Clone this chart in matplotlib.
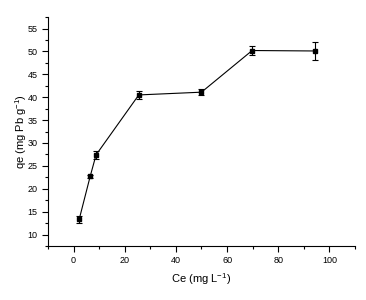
import matplotlib
matplotlib.use("Agg")
import matplotlib.pyplot as plt
import matplotlib.ticker as ticker

plt.rcParams["font.family"] = ["Liberation Sans", "DejaVu Sans"]
plt.rcParams["font.size"] = 7
plt.rcParams["mathtext.default"] = "regular"

# equilibrium concentration vs. uptake
ce = [2.2, 6.5, 8.8, 25.5, 50.0, 69.8, 94.5]
qe = [13.3, 22.7, 27.4, 40.5, 41.1, 50.2, 50.1]
qe_err = [0.8, 0.3, 0.8, 0.8, 0.7, 0.9, 2.0]

fig = plt.figure(figsize=(3.66, 3.0), dpi=100)
ax = fig.add_axes([0.131, 0.18, 0.839, 0.763])

ax.errorbar(ce, qe, yerr=qe_err, color="black", marker="s", markersize=3.5,
            linewidth=0.8, elinewidth=0.8, capsize=2, capthick=0.8)

ax.set_xlim(-10, 110)
ax.set_ylim(7.5, 57.5)
ax.xaxis.set_minor_locator(ticker.MultipleLocator(10))
ax.yaxis.set_minor_locator(ticker.MultipleLocator(2.5))
ax.set_xticks([0, 20, 40, 60, 80, 100])
ax.set_yticks([10, 15, 20, 25, 30, 35, 40, 45, 50, 55])

ax.spines["top"].set_visible(False)
ax.spines["right"].set_visible(False)
ax.tick_params(which="major", direction="out", length=4, width=0.8, labelsize=6.5)
ax.tick_params(which="minor", direction="out", length=2, width=0.8)

ax.set_xlabel("Ce (mg L$^{-1}$)", fontsize=8, labelpad=4)
ax.set_ylabel("qe (mg Pb g$^{-1}$)", fontsize=8, labelpad=-1)

fig.savefig("out.png", dpi=100)
